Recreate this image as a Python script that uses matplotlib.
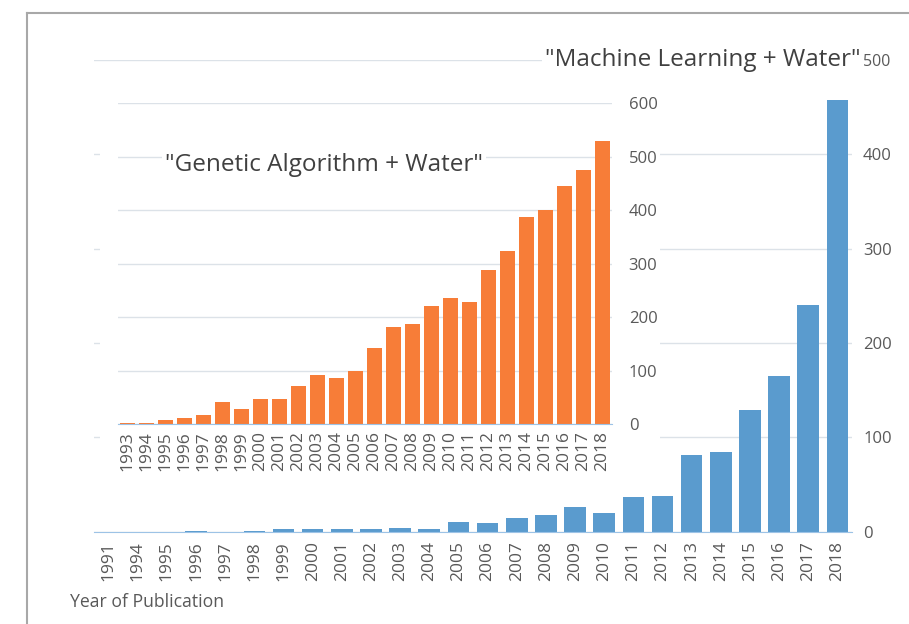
import matplotlib.pyplot as plt
from matplotlib.patches import Rectangle
from matplotlib.lines import Line2D

ml_years = ['1991', '1994', '1995', '1996', '1997', '1998', '1999', '2000', '2001',
            '2002', '2003', '2004', '2005', '2006', '2007', '2008', '2009', '2010',
            '2011', '2012', '2013', '2014', '2015', '2016', '2017', '2018']
ml_counts = [0, 0, 0, 1, 0, 1, 3, 3, 3, 3, 4, 3, 10, 9, 15, 18, 26, 20,
             37, 38, 81, 84, 129, 165, 240, 457]

ga_years = [str(y) for y in range(1993, 2019)]
ga_counts = [1, 1, 7, 11, 17, 42, 29, 47, 46, 72, 92, 87, 100, 142, 182, 187,
             220, 236, 228, 289, 324, 387, 400, 445, 476, 530]

plt.rcParams['font.family'] = ['Open Sans', 'DejaVu Sans']
tick_col = '#595959'
grid_col = '#DCE2E8'
base_col = '#9DC3E6'

fig = plt.figure(figsize=(9.09, 6.24), dpi=100)

# outer frame (only left and top edges visible in the crop)
fig.add_artist(Line2D([0.0297, 0.0297], [0, 0.9792], color='#A8A8A8', lw=1.5))
fig.add_artist(Line2D([0.0297, 1.0], [0.9792, 0.9792], color='#A8A8A8', lw=1.5))

# main chart: Machine Learning + Water
ax = fig.add_axes([0.1034, 0.1479, 0.8339, 0.7564], zorder=0)
ax.bar(ml_years, ml_counts, width=0.74, color='#5A9BCE', zorder=2)
ax.set_xlim(-0.5, len(ml_years) - 0.5)
ax.set_ylim(0, 500)
ax.set_yticks([0, 100, 200, 300, 400, 500])
ax.yaxis.tick_right()
ax.grid(axis='y', color=grid_col, lw=1, zorder=0)
for s in ['top', 'left', 'right']:
    ax.spines[s].set_visible(False)
ax.spines['bottom'].set_color(base_col)
ax.tick_params(axis='x', length=0, pad=7, rotation=90, labelsize=12.5, labelcolor=tick_col)
ax.tick_params(axis='y', length=0, pad=8, labelsize=12, labelcolor=tick_col)
ax.get_yticklabels()[-1].set_fontsize(11.5)
ax.text(0.803, 1.0, '"Machine Learning + Water"', transform=ax.transAxes,
        fontsize=17.5, color='#404040', ha='center', va='center',
        bbox=dict(facecolor='white', edgecolor='none', pad=2), zorder=3)

# white panel behind the inset chart
fig.add_artist(Rectangle((0.110, 0.234), 0.616, 0.6298, transform=fig.transFigure,
                         facecolor='white', edgecolor='none', zorder=0.5))

# inset chart: Genetic Algorithm + Water
ax2 = fig.add_axes([0.1298, 0.3205, 0.5435, 0.514], zorder=1)
ax2.patch.set_alpha(0)
ax2.bar(ga_years, ga_counts, width=0.77, color='#F77D38', zorder=2)
ax2.set_xlim(-0.5, len(ga_years) - 0.5)
ax2.set_ylim(0, 600)
ax2.set_yticks([0, 100, 200, 300, 400, 500, 600])
ax2.yaxis.tick_right()
ax2.grid(axis='y', color=grid_col, lw=1, zorder=0)
for s in ['top', 'left', 'right']:
    ax2.spines[s].set_visible(False)
ax2.spines['bottom'].set_color(base_col)
ax2.tick_params(axis='x', length=0, pad=5, rotation=90, labelsize=12.5, labelcolor=tick_col)
ax2.tick_params(axis='y', length=0, pad=12, labelsize=12, labelcolor=tick_col)
ax2.text(0.417, 0.808, '"Genetic Algorithm + Water"', transform=ax2.transAxes,
         fontsize=17.5, color='#404040', ha='center', va='center',
         bbox=dict(facecolor='white', edgecolor='none', pad=2), zorder=3)

fig.text(0.077, 0.035, 'Year of Publication', fontsize=12.7, color=tick_col,
         ha='left', va='center')

fig.savefig('out.png', dpi=100)
